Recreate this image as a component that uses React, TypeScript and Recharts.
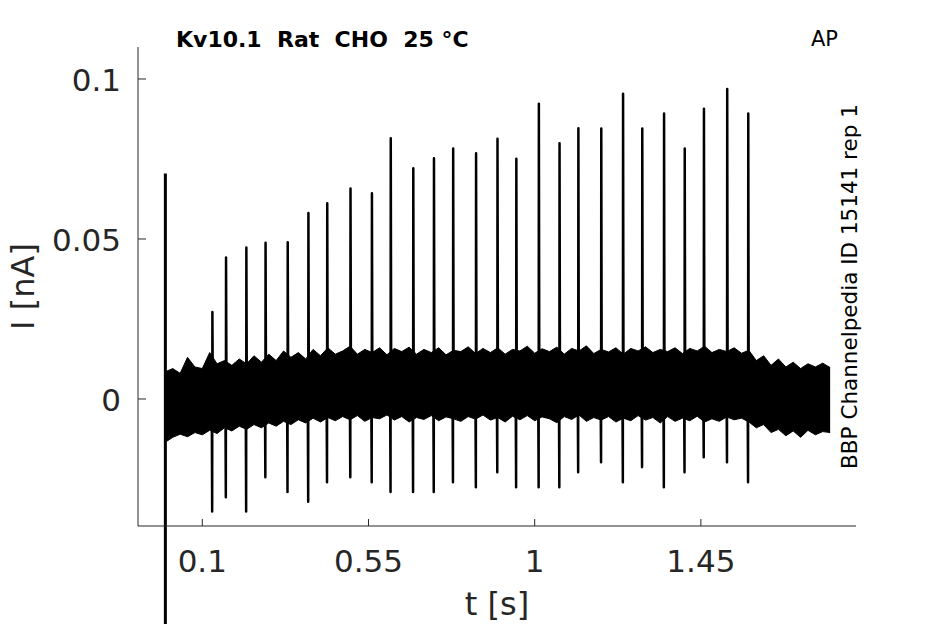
import React from 'react';
import {
  ComposedChart,
  Area,
  Line,
  XAxis,
  YAxis,
  ReferenceLine
} from 'recharts';

// spike times [s], peak and trough currents [nA]
const spikeTimes = [
  0.127, 0.164, 0.219, 0.271, 0.331, 0.387, 0.438, 0.501, 0.559, 0.61,
  0.671, 0.727, 0.779, 0.841, 0.899, 0.95, 1.011, 1.067, 1.118, 1.18,
  1.239, 1.291, 1.35, 1.406, 1.458, 1.521, 1.578
];
const spikePeaks = [
  0.0272, 0.0442, 0.0473, 0.0488, 0.049, 0.0581, 0.0612, 0.0658, 0.0643, 0.0815,
  0.0721, 0.0752, 0.0783, 0.0768, 0.0813, 0.0751, 0.0923, 0.0799, 0.0846, 0.0845,
  0.0954, 0.0845, 0.0892, 0.0783, 0.0907, 0.0969, 0.0892
];
const spikeTroughs = [
  -0.0352, -0.0307, -0.0352, -0.0245, -0.0291, -0.0321, -0.026, -0.0245, -0.026, -0.0291,
  -0.0291, -0.0291, -0.026, -0.0276, -0.0229, -0.0276, -0.0276, -0.0276, -0.0229, -0.0198,
  -0.026, -0.0213, -0.0276, -0.0229, -0.0182, -0.0198, -0.026
];

// start artifact at t = 0
const artifactTime = 0;
const artifactPeak = 0.0705;
const artifactTrough = -0.08;

// noise envelope, sampled every 20 ms from 0 to 1.8 s
const noiseStep = 0.02;
const noiseHi = [
  0.0085, 0.0095, 0.008, 0.013, 0.01,
  0.0095, 0.0145, 0.011, 0.012, 0.0105,
  0.0125, 0.011, 0.0135, 0.0115, 0.014,
  0.012, 0.015, 0.013, 0.0145, 0.0125,
  0.0155, 0.0135, 0.016, 0.014, 0.015,
  0.0165, 0.014, 0.0155, 0.0145, 0.016,
  0.0138, 0.0158, 0.0148, 0.0162, 0.014,
  0.0155, 0.0145, 0.016, 0.0138, 0.0152,
  0.0148, 0.0163, 0.0142, 0.0158, 0.0145,
  0.016, 0.014, 0.0155, 0.015, 0.0165,
  0.0143, 0.0157, 0.0148, 0.0162, 0.014,
  0.0158, 0.015, 0.0166, 0.0142, 0.0155,
  0.0147, 0.016, 0.014, 0.0158, 0.015,
  0.0163, 0.0145, 0.0155, 0.0148, 0.016,
  0.0142, 0.0158, 0.015, 0.0165, 0.0145,
  0.0155, 0.0148, 0.016, 0.0143, 0.0152,
  0.012, 0.0135, 0.0105, 0.0125, 0.01,
  0.0115, 0.0095, 0.011, 0.01, 0.0112,
  0.0098
];
const noiseLo = [
  -0.0135, -0.012, -0.011, -0.0118, -0.0105,
  -0.0112, -0.0098, -0.0108, -0.009, -0.01,
  -0.0085, -0.0095, -0.008, -0.009, -0.0075,
  -0.0085, -0.007, -0.008, -0.0065, -0.0075,
  -0.006, -0.0072, -0.0058, -0.0068, -0.0055,
  -0.0065, -0.0052, -0.007, -0.0058, -0.0062,
  -0.005, -0.0066, -0.0055, -0.0072, -0.0058,
  -0.0064, -0.0052, -0.0068, -0.0056, -0.0062,
  -0.007, -0.0055, -0.0063, -0.005, -0.0066,
  -0.0058, -0.0072, -0.0054, -0.0065, -0.0052,
  -0.0068, -0.0056, -0.0062, -0.0074, -0.0055,
  -0.0064, -0.005, -0.007, -0.0058, -0.0066,
  -0.0055, -0.0072, -0.006, -0.0068, -0.0052,
  -0.0066, -0.0058, -0.0075, -0.0055, -0.007,
  -0.006, -0.0068, -0.0054, -0.0072, -0.0062,
  -0.007, -0.0056, -0.0065, -0.006, -0.0072,
  -0.009, -0.008, -0.0105, -0.0095, -0.0115,
  -0.01, -0.012, -0.0098, -0.0112, -0.0102,
  -0.0105
];
const spikeBase = 0.003;

const xTicks = [0.1, 0.55, 1, 1.45];
const yTicks = [0, 0.05, 0.1];

const FONT = '"DejaVu Sans", sans-serif';
const AXIS = '#262626';

const noiseData = noiseHi.map((hi, i) => ({
  t: +(i * noiseStep).toFixed(3),
  range: [noiseLo[i], hi]
}));

const spikeData = spikeTimes.flatMap((t, i) => [
  { t: t - 0.0015, v: spikeBase },
  { t: t - 0.0003, v: spikeTroughs[i] },
  { t: t + 0.0003, v: spikePeaks[i] },
  { t: t + 0.0015, v: spikeBase }
]);

const XTick = (props: any) => {
  const { x, y, payload } = props;
  return (
    <g>
      <line x1={x} x2={x} y1={y} y2={y - 7} stroke={AXIS} strokeWidth={1} />
      <text x={x} y={y + 46} textAnchor="middle" fontSize={31} fontFamily={FONT} fill={AXIS}>
        {String(payload.value)}
      </text>
    </g>
  );
};

const YTick = (props: any) => {
  const { x, y, payload } = props;
  return (
    <g>
      <line x1={x} x2={x + 8} y1={y} y2={y} stroke={AXIS} strokeWidth={1} />
      <text x={x - 17} y={y + 12} textAnchor="end" fontSize={31} fontFamily={FONT} fill={AXIS}>
        {String(payload.value)}
      </text>
    </g>
  );
};

const XLabel = (props: any) => {
  const { x, y, width } = props.viewBox;
  return (
    <text x={x + width / 2} y={y + 89} textAnchor="middle" fontSize={32} fontFamily={FONT} fill={AXIS}>
      t [s]
    </text>
  );
};

const YLabel = (props: any) => {
  const { y, height } = props.viewBox;
  const cx = 34;
  const cy = y + height / 2;
  return (
    <text
      x={cx}
      y={cy}
      transform={`rotate(-90, ${cx}, ${cy})`}
      textAnchor="middle"
      fontSize={32}
      fontFamily={FONT}
      fill={AXIS}
    >
      I [nA]
    </text>
  );
};

export default function App() {
  return (
    <div style={{ position: 'absolute', left: 0, top: 0, width: 945, height: 624, background: '#fff' }}>
      <ComposedChart width={945} height={624} margin={{ top: 47, right: 89, bottom: 0, left: 0 }}>
        <XAxis
          type="number"
          dataKey="t"
          domain={[-0.0741, 1.87]}
          ticks={xTicks}
          interval={0}
          height={98}
          tickSize={0}
          tickMargin={0}
          tickLine={false}
          axisLine={{ stroke: AXIS, strokeWidth: 1 }}
          tick={<XTick />}
          label={<XLabel />}
        />
        <YAxis
          type="number"
          domain={[-0.0397, 0.11]}
          ticks={yTicks}
          interval={0}
          width={138}
          tickSize={0}
          tickMargin={0}
          tickLine={false}
          axisLine={{ stroke: AXIS, strokeWidth: 1 }}
          tick={<YTick />}
          label={<YLabel />}
        />
        <Area
          data={noiseData}
          dataKey="range"
          type="linear"
          stroke="#000"
          strokeWidth={1}
          fill="#000"
          fillOpacity={1}
          dot={false}
          activeDot={false}
          isAnimationActive={false}
        />
        <Line
          data={spikeData}
          dataKey="v"
          type="linear"
          stroke="#000"
          strokeWidth={2.5}
          strokeLinejoin="round"
          dot={false}
          activeDot={false}
          isAnimationActive={false}
        />
        <ReferenceLine
          segment={[
            { x: artifactTime, y: artifactPeak },
            { x: artifactTime, y: artifactTrough }
          ]}
          stroke="#000"
          strokeWidth={3}
          ifOverflow="visible"
        />
      </ComposedChart>
      <svg
        width={945}
        height={624}
        style={{ position: 'absolute', left: 0, top: 0, pointerEvents: 'none' }}
      >
        <text x={176} y={47} fontSize={22} fontWeight="bold" fontFamily={FONT} fill="#000" style={{ whiteSpace: 'pre' }}>
          {'Kv10.1  Rat  CHO  25 °C'}
        </text>
        <text x={811} y={46} fontSize={21} fontFamily={FONT} fill="#000">
          AP
        </text>
        <text
          x={857}
          y={286.5}
          transform="rotate(-90, 857, 286.5)"
          textAnchor="middle"
          fontSize={21.5}
          fontFamily={FONT}
          fill="#000"
        >
          BBP Channelpedia ID 15141 rep 1
        </text>
      </svg>
    </div>
  );
}
